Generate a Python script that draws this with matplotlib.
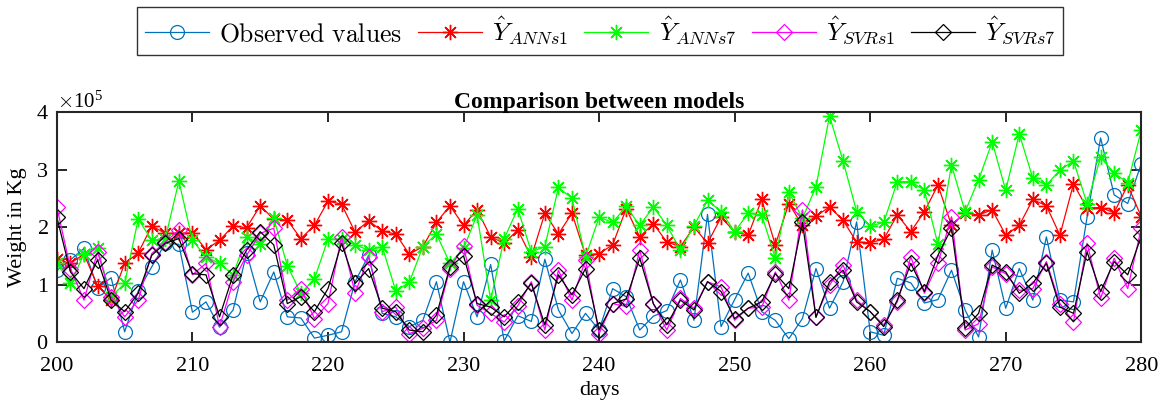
import numpy as np
import matplotlib
matplotlib.use("Agg")
import matplotlib.pyplot as plt
from matplotlib.ticker import ScalarFormatter

plt.rcParams["font.family"] = "Liberation Serif"
plt.rcParams["mathtext.fontset"] = "cm"

# days 200..280
days = np.arange(200, 281)

# values in units of 1e5 kg
observed = [1.25, 1.43, 1.63, 0.94, 1.12, 0.18, 0.89, 1.31, 1.72, 1.70,
            0.52, 0.70, 0.26, 0.56, 1.55, 0.70, 1.22, 0.44, 0.42, 0.07,
            0.12, 0.18, 1.05, 1.51, 0.50, 0.44, 0.27, 0.38, 1.05, 0.00,
            1.05, 0.44, 1.35, 0.02, 0.46, 0.36, 1.44, 0.56, 0.15, 0.50,
            0.21, 0.93, 0.79, 0.21, 0.45, 0.55, 1.08, 0.38, 2.22, 0.27,
            0.74, 1.20, 0.53, 0.38, 0.06, 0.41, 1.28, 0.59, 1.05, 2.09,
            0.18, 0.12, 1.11, 1.03, 0.68, 0.74, 1.25, 0.56, 0.09, 1.60,
            0.59, 1.28, 0.73, 1.83, 0.73, 0.70, 2.17, 3.55, 2.56, 2.41,
            3.10]

ann_s1 = [1.44, 1.37, 1.53, 0.98, 0.73, 1.37, 1.55, 2.02, 1.89, 1.89,
          1.90, 1.61, 1.77, 2.02, 1.99, 2.37, 2.14, 2.12, 1.80, 2.03,
          2.45, 2.40, 1.91, 2.11, 1.93, 1.88, 1.53, 1.66, 2.08, 2.37,
          2.03, 2.30, 1.83, 1.72, 1.95, 1.48, 2.24, 1.88, 2.24, 1.51,
          1.54, 1.69, 2.32, 1.83, 2.06, 1.74, 1.66, 2.00, 1.72, 2.17,
          1.92, 1.86, 2.48, 1.69, 2.41, 2.03, 2.19, 2.35, 2.12, 1.74,
          1.73, 1.79, 2.21, 1.92, 2.27, 2.73, 2.03, 2.25, 2.21, 2.30,
          1.86, 2.03, 2.48, 2.37, 1.86, 2.75, 2.33, 2.34, 2.25, 2.73,
          2.18]

ann_s7 = [1.37, 1.02, 1.53, 1.63, 0.79, 1.02, 2.14, 1.77, 1.80, 2.80,
          1.77, 1.48, 1.37, 1.17, 1.83, 1.70, 2.15, 1.33, 0.85, 1.10,
          1.79, 1.79, 1.69, 1.60, 1.66, 0.89, 1.04, 1.66, 1.88, 1.37,
          1.63, 2.21, 0.73, 1.80, 2.32, 1.57, 1.66, 2.69, 2.50, 1.48,
          2.17, 2.08, 2.36, 2.03, 2.35, 2.03, 1.60, 2.02, 2.47, 2.27,
          1.92, 2.24, 2.21, 1.46, 2.61, 2.15, 2.70, 3.93, 3.15, 2.27,
          2.02, 2.08, 2.79, 2.79, 2.64, 1.70, 3.08, 2.27, 2.82, 3.48,
          2.64, 3.62, 2.85, 2.73, 2.99, 3.15, 2.41, 3.21, 2.94, 2.77,
          3.68]

svr_s1 = [2.35, 1.28, 0.73, 1.57, 0.79, 0.44, 0.73, 1.54, 1.74, 1.95,
          1.17, 1.37, 0.27, 1.05, 1.51, 1.89, 1.98, 0.73, 0.93, 0.41,
          0.67, 1.83, 0.85, 1.48, 0.53, 0.61, 0.15, 0.24, 0.38, 1.28,
          1.67, 0.64, 0.50, 0.35, 0.63, 1.05, 0.21, 1.25, 0.73, 1.43,
          0.15, 0.67, 0.62, 1.60, 0.67, 0.21, 0.76, 0.59, 1.05, 0.96,
          0.38, 0.59, 0.61, 1.22, 0.73, 2.30, 0.44, 0.99, 1.34, 0.73,
          0.53, 0.30, 0.70, 1.48, 0.85, 1.37, 2.18, 0.21, 0.32, 1.31,
          1.19, 0.90, 0.93, 1.40, 0.67, 0.35, 1.72, 0.76, 1.46, 0.93,
          1.98]

svr_s7 = [2.17, 1.22, 0.93, 1.43, 0.73, 0.53, 0.85, 1.51, 1.72, 1.80,
          1.19, 1.17, 0.44, 1.17, 1.60, 1.92, 1.69, 0.67, 0.79, 0.53,
          0.93, 1.72, 1.02, 1.28, 0.59, 0.53, 0.21, 0.18, 0.47, 1.31,
          1.50, 0.67, 0.61, 0.44, 0.70, 1.02, 0.30, 1.17, 0.82, 1.28,
          0.21, 0.67, 0.75, 1.46, 0.67, 0.30, 0.73, 0.56, 1.05, 0.88,
          0.41, 0.59, 0.70, 1.19, 0.93, 2.08, 0.43, 1.05, 1.25, 0.70,
          0.53, 0.27, 0.73, 1.37, 0.88, 1.51, 1.98, 0.24, 0.50, 1.34,
          1.22, 0.85, 1.02, 1.37, 0.61, 0.50, 1.57, 0.88, 1.40, 1.17,
          1.84]

labels = ["$\\mathrm{Observed\\ values}$", "$\\hat{Y}_{ANNs1}$",
          "$\\hat{Y}_{ANNs7}$", "$\\hat{Y}_{SVRs1}$", "$\\hat{Y}_{SVRs7}$"]

scale = 1e5
star = (8, 2, 0)

fig = plt.figure(figsize=(11.61, 4.03), dpi=100)
ax = fig.add_axes([0.049, 0.151, 0.934, 0.571])

ax.plot(days, np.array(observed) * scale, color="#0072BD", lw=0.9, marker="o",
        ms=10, mfc="none", mec="#0072BD", mew=0.9, label=labels[0])
ax.plot(days, np.array(ann_s1) * scale, color="#FF0000", lw=0.9, marker=star,
        ms=11, mew=1.0, label=labels[1])
ax.plot(days, np.array(ann_s7) * scale, color="#00FF00", lw=0.9, marker=star,
        ms=11, mew=1.0, label=labels[2])
ax.plot(days, np.array(svr_s1) * scale, color="#FF00FF", lw=0.9, marker="D",
        ms=8, mfc="none", mew=0.9, label=labels[3])
ax.plot(days, np.array(svr_s7) * scale, color="black", lw=0.9, marker="D",
        ms=8, mfc="none", mew=0.9, label=labels[4])

ax.set_xlim(200, 280)
ax.set_ylim(0, 4e5)
ax.set_xticks(np.arange(200, 281, 10))
ax.set_yticks(np.arange(0, 4.1e5, 1e5))
fmt = ScalarFormatter(useMathText=True)
fmt.set_powerlimits((0, 0))
ax.yaxis.set_major_formatter(fmt)
ax.yaxis.get_offset_text().set_fontsize(15)
ax.tick_params(direction="in", length=7, width=1.2, labelsize=16,
               top=True, right=True)
ax.tick_params(axis="x", pad=11)
ax.tick_params(axis="y", pad=6)
for s in ax.spines.values():
    s.set_linewidth(1.5)
    s.set_color("#262626")

ax.set_title("Comparison between models", fontsize=17, fontweight="bold", pad=3)
ax.set_xlabel("days", fontsize=16, labelpad=3)
ax.set_ylabel("Weight in Kg", fontsize=16, labelpad=6)

leg = fig.legend(loc="center", bbox_to_anchor=(0.517, 0.923), ncol=5,
                 fontsize=18.5, frameon=True, fancybox=False, edgecolor="black",
                 handlelength=2.5, columnspacing=0.6, handletextpad=0.4,
                 borderpad=0.3)
leg.get_frame().set_linewidth(1.0)

plt.savefig("out.png", dpi=100)
